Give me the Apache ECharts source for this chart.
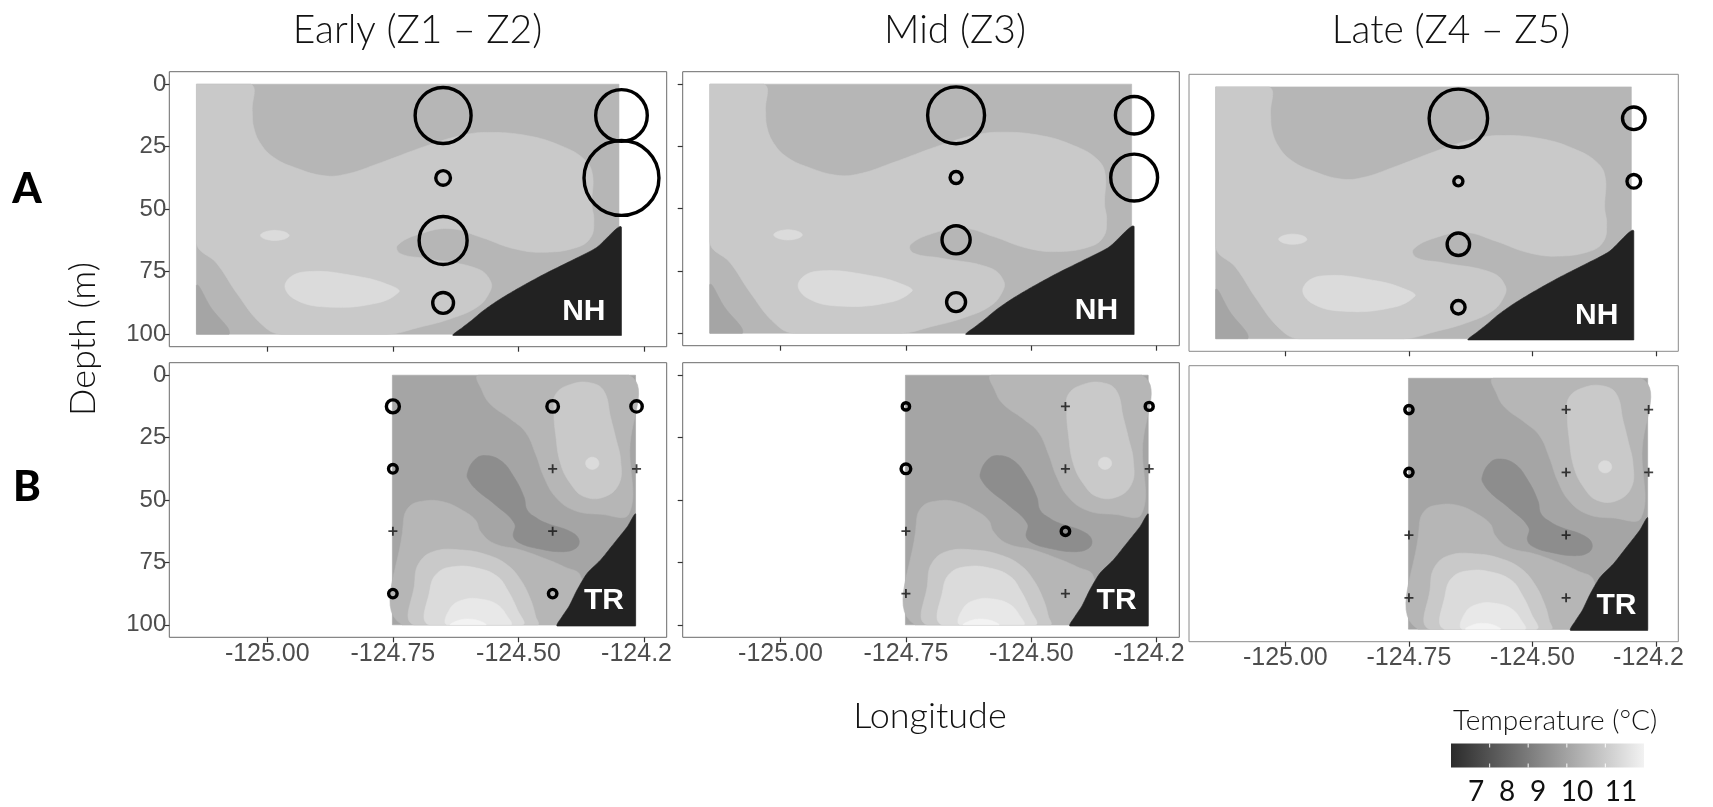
<!DOCTYPE html>
<html>
<head>
<meta charset="utf-8">
<title>Larval distribution over temperature sections, NH and TR lines</title>
<script src="https://cdn.jsdelivr.net/npm/echarts@6.0.0/dist/echarts.min.js"></script>
<style>
  html, body { margin: 0; padding: 0; background: #fff; }
  #chart { width: 1713px; height: 807px; }
</style>
</head>
<body>
<div id="chart"></div>
<script>
// ---------- labels and ticks ----------
const periodTitles = ['Early (Z1 – Z2)', 'Mid (Z3)', 'Late (Z4 – Z5)'];
const rowLetters = ['A', 'B'];
const transectNames = ['NH', 'TR'];
const transectLabelAt = [[-124.37, 91], [-124.33, 90.5]];
const lonTicks = [-125.0, -124.75, -124.5, -124.25];
const lonTickLabels = ['-125.00', '-124.75', '-124.50', '-124.2'];
const depthTicks = [0, 25, 50, 75, 100];
const tempLegendBreaks = [7, 8, 9, 10, 11];
const tempLegendRange = [7, 12];

// ---------- station catches: [longitude, depth bin (m), density]; 0 = sampled, none caught ----------
const nhEarly = [[-124.65, 12.5, 87], [-124.65, 37.5, 6], [-124.65, 62.5, 64], [-124.65, 87.5, 12],
                 [-124.295, 12.5, 74], [-124.295, 37.5, 156]];
const nhMid   = [[-124.65, 12.5, 90], [-124.65, 37.5, 4], [-124.65, 62.5, 22], [-124.65, 87.5, 10],
                 [-124.295, 12.5, 39], [-124.295, 37.5, 61]];
const nhLate  = [[-124.65, 12.5, 95], [-124.65, 37.5, 2.3], [-124.65, 62.5, 14], [-124.65, 87.5, 5],
                 [-124.295, 12.5, 14.2], [-124.295, 37.5, 5.2]];
const trEarly = [[-124.75, 12.5, 4.7], [-124.432, 12.5, 3.7], [-124.265, 12.5, 3.6],
                 [-124.75, 37.5, 2.1], [-124.432, 37.5, 0], [-124.265, 37.5, 0],
                 [-124.75, 62.5, 0], [-124.432, 62.5, 0],
                 [-124.75, 87.5, 2.0], [-124.432, 87.5, 2.0]];
const trMid   = [[-124.75, 12.5, 1.5], [-124.432, 12.5, 0], [-124.265, 12.5, 1.8],
                 [-124.75, 37.5, 2.6], [-124.432, 37.5, 0], [-124.265, 37.5, 0],
                 [-124.75, 62.5, 0], [-124.432, 62.5, 2.0],
                 [-124.75, 87.5, 0], [-124.432, 87.5, 0]];
const trLate  = [[-124.75, 12.5, 1.9], [-124.432, 12.5, 0], [-124.265, 12.5, 0],
                 [-124.75, 37.5, 1.9], [-124.432, 37.5, 0], [-124.265, 37.5, 0],
                 [-124.75, 62.5, 0], [-124.432, 62.5, 0],
                 [-124.75, 87.5, 0], [-124.432, 87.5, 0]];

// ---------- NH section: temperature bands as [lon, depth] outlines ----------
const nhExtent = [-125.141, -124.30, 0, 100];
const nhFrame = [[-125.141, 0], [-124.30, 0], [-124.30, 100], [-125.141, 100]];
const nhBand105 = [[-125.141, 0], [-125.033, 0], [-125.030, 10.6], [-125.027, 17.3], [-125.013, 23.9],
  [-124.987, 29.3], [-124.947, 33.2], [-124.887, 36.6], [-124.841, 35.9], [-124.781, 31.9],
  [-124.682, 24.6], [-124.615, 20.6], [-124.562, 19.3], [-124.482, 20.6], [-124.416, 24.6],
  [-124.370, 29.9], [-124.353, 35.9], [-124.354, 47.9], [-124.350, 54.5], [-124.356, 61.2],
  [-124.383, 65.2], [-124.449, 67.2], [-124.509, 65.8], [-124.575, 61.2], [-124.635, 57.8],
  [-124.695, 59.8], [-124.741, 64.5], [-124.735, 67.8], [-124.682, 69.8], [-124.582, 73.8],
  [-124.555, 79.1], [-124.559, 83.8], [-124.582, 89.1], [-124.635, 93.8], [-124.695, 97.1],
  [-124.761, 100], [-124.973, 100], [-125.013, 95.7], [-125.060, 83.8], [-125.100, 71.8],
  [-125.141, 63.2]];
const nhBand95 = [[-125.141, 80.5], [-125.113, 89.1], [-125.076, 100], [-125.141, 100]];
const nhSpotSmall = [[-124.9565, 60.5], [-124.9708, 62.2], [-124.9993, 62.2], [-125.0135, 60.5],
  [-124.9993, 58.8], [-124.9708, 58.8]];
const nhSpotLarge = [[-124.964, 79.8], [-124.927, 75.1], [-124.814, 77.1], [-124.748, 81.1],
  [-124.738, 83.1], [-124.781, 87.5], [-124.881, 89.1], [-124.947, 85.8]];
const nhShelf = [[-124.630, 100.5], [-124.612, 97.4], [-124.594, 94.6], [-124.570, 90.6],
  [-124.540, 86.4], [-124.500, 81.6], [-124.449, 76.0], [-124.395, 70.6], [-124.345, 65.4],
  [-124.295, 57.2], [-124.295, 100.5]];

// ---------- TR section ----------
const trExtent = [-124.751, -124.267, 0, 100];
const trFrame = [[-124.751, 0], [-124.267, 0], [-124.267, 100], [-124.751, 100]];
const trBand100a = [[-124.5787, 0], [-124.5720, 6.4], [-124.5555, 11.7], [-124.5157, 17.6],
  [-124.4858, 22.9], [-124.4659, 31.6], [-124.4493, 40.8], [-124.4261, 48.8], [-124.3896, 54.1],
  [-124.3365, 55.7], [-124.2801, 55.5], [-124.2785, 30.2], [-124.2801, 0]];
const trBand105a = [[-124.4261, 7.7], [-124.3962, 3.7], [-124.3564, 3.1], [-124.3299, 6.4],
  [-124.3166, 17.0], [-124.3067, 24.9], [-124.2967, 34.2], [-124.3000, 43.5], [-124.3299, 48.8],
  [-124.3697, 48.6], [-124.3962, 43.5], [-124.4161, 35.5], [-124.4261, 23.6], [-124.4294, 14.3]];
const trSpot110 = [[-124.3398, 35.3], [-124.3465, 37.4], [-124.3598, 37.4], [-124.3664, 35.3],
  [-124.3598, 33.2], [-124.3465, 33.2]];
const trBand90 = [[-124.6019, 39.5], [-124.5886, 34.2], [-124.5687, 32.2], [-124.5356, 34.2],
  [-124.5090, 40.8], [-124.4891, 48.8], [-124.4825, 54.1], [-124.4626, 57.4], [-124.4427, 59.4],
  [-124.3962, 62.7], [-124.3796, 66.0], [-124.3863, 69.4], [-124.4161, 70.7], [-124.4626, 69.4],
  [-124.4958, 67.4], [-124.5100, 64.7], [-124.5080, 59.4], [-124.5488, 51.5], [-124.5820, 46.2],
  [-124.5986, 42.2]];
const trBand100b = [[-124.7313, 100], [-124.7293, 59.4], [-124.7180, 52.8], [-124.6882, 50.4],
  [-124.6484, 50.8], [-124.6119, 54.1], [-124.5853, 58.1], [-124.5754, 62.7], [-124.5488, 67.4],
  [-124.4958, 70.0], [-124.4493, 73.3], [-124.4095, 76.7], [-124.3763, 80.6], [-124.3700, 100]];
const trBand105b = [[-124.7081, 100], [-124.7067, 83.3], [-124.6981, 75.3], [-124.6683, 70.6],
  [-124.6152, 70.0], [-124.5621, 72.0], [-124.5223, 76.0], [-124.4958, 82.0], [-124.4759, 89.9],
  [-124.4659, 96.6], [-124.4626, 100]];
const trBand110 = [[-124.6782, 100], [-124.6762, 85.9], [-124.6616, 79.3], [-124.6285, 76.7],
  [-124.5820, 77.3], [-124.5422, 80.6], [-124.5223, 85.9], [-124.5024, 93.9], [-124.4924, 100]];
const trBand115 = [[-124.6417, 100], [-124.6351, 93.2], [-124.6085, 89.9], [-124.5754, 89.7],
  [-124.5422, 91.9], [-124.5223, 96.6], [-124.5157, 100]];
const trBand120 = [[-124.6351, 100], [-124.6218, 98.4], [-124.6019, 97.7], [-124.5787, 98.4],
  [-124.5654, 100]];
const trShelf = [[-124.4228, 100.5], [-124.4128, 96.6], [-124.3995, 92.6], [-124.3830, 85.9],
  [-124.3631, 79.3], [-124.3365, 74.0], [-124.3100, 67.4], [-124.2834, 60.7], [-124.2668, 55.7],
  [-124.2668, 100.5]];

// ---------- styles ----------
const bandFill = { 9.0: '#8d8d8d', 9.5: '#a5a5a5', 10.0: '#b6b6b6', 10.5: '#c9c9c9',
                   11.0: '#dbdbdb', 11.5: '#e8e8e8', 12.0: '#f3f3f3' };
const SHELF_FILL = '#222222';
const LABEL_GREY = '#4d4d4d';
const TEXT_FONT = 'Lato, "Open Sans", sans-serif';
const TICK_FONT = '"Liberation Sans", Arial, sans-serif';

// layer stacks, painted in order
const nhLayers = [
  { ring: nhFrame, t: 10.0 }, { ring: nhBand105, t: 10.5 }, { ring: nhBand95, t: 9.5 },
  { ring: nhSpotSmall, t: 11.0 }, { ring: nhSpotLarge, t: 11.0 }, { ring: nhShelf, shelf: true }
];
const trLayers = [
  { ring: trFrame, t: 9.5 }, { ring: trBand100a, t: 10.0 }, { ring: trBand105a, t: 10.5 },
  { ring: trSpot110, t: 11.0 }, { ring: trBand90, t: 9.0 }, { ring: trBand100b, t: 10.0 },
  { ring: trBand105b, t: 10.5 }, { ring: trBand110, t: 11.0 }, { ring: trBand115, t: 11.5 },
  { ring: trBand120, t: 12.0 }, { ring: trShelf, shelf: true }
];

// panel boxes: [left, top, width, height]
const panelBoxes = [
  [169.3, 71.7, 497.4, 275.0], [682.7, 71.7, 496.6, 274.0], [1189.0, 74.3, 489.3, 277.0],
  [169.3, 362.7, 497.4, 274.6], [682.7, 362.7, 496.6, 274.6], [1189.0, 365.7, 489.3, 276.0]
];
const panelCatches = [nhEarly, nhMid, nhLate, trEarly, trMid, trLate];

// ---------- outline builder: straight along the section frame, smooth bezier elsewhere ----------
function onFrame(a, b, ext) {
  return (a[1] === b[1] && (a[1] <= ext[2] || a[1] >= ext[3])) ||
         (a[0] === b[0] && (a[0] <= ext[0] || a[0] >= ext[1]));
}
function ringPixels(ring, api, ext, smooth) {
  const n = ring.length;
  const px = ring.map(p => api.coord(p));
  const cpIn = [], cpOut = [];
  for (let i = 0; i < n; i++) {
    const p0 = px[(i - 1 + n) % n], p1 = px[i], p2 = px[(i + 1) % n];
    const d0 = Math.hypot(p1[0] - p0[0], p1[1] - p0[1]);
    const d1 = Math.hypot(p2[0] - p1[0], p2[1] - p1[1]);
    const s = (d0 + d1) || 1, vx = p2[0] - p0[0], vy = p2[1] - p0[1];
    cpIn.push([p1[0] - vx * smooth * d0 / s, p1[1] - vy * smooth * d0 / s]);
    cpOut.push([p1[0] + vx * smooth * d1 / s, p1[1] + vy * smooth * d1 / s]);
  }
  const out = [];
  for (let i = 0; i < n; i++) {
    const j = (i + 1) % n;
    out.push(px[i]);
    if (!smooth || onFrame(ring[i], ring[j], ext)) continue;
    const a = px[i], b = cpOut[i], c = cpIn[j], d = px[j];
    for (let k = 1; k < 14; k++) {
      const t = k / 14, u = 1 - t;
      out.push([
        u * u * u * a[0] + 3 * u * u * t * b[0] + 3 * u * t * t * c[0] + t * t * t * d[0],
        u * u * u * a[1] + 3 * u * u * t * b[1] + 3 * u * t * t * c[1] + t * t * t * d[1]
      ]);
    }
  }
  return out;
}

function sectionSeries(layers, ext, idx) {
  return {
    type: 'custom', coordinateSystem: 'cartesian2d', xAxisIndex: idx, yAxisIndex: idx,
    silent: true, clip: true, z: 1, animation: false,
    data: layers.map((l, i) => [l.ring[0][0], l.ring[0][1], i]),
    encode: { x: 0, y: 1 },
    renderItem: (params, api) => {
      const layer = layers[params.dataIndex];
      const fill = layer.shelf ? SHELF_FILL : bandFill[layer.t];
      return {
        type: 'polygon',
        shape: { points: ringPixels(layer.ring, api, ext, layer.shelf ? 0.25 : 0.42) },
        style: { fill: fill, stroke: fill, lineWidth: 0.6 }
      };
    }
  };
}

function transectLabelSeries(row, idx) {
  return {
    type: 'custom', coordinateSystem: 'cartesian2d', xAxisIndex: idx, yAxisIndex: idx,
    silent: true, z: 6, animation: false,
    data: [transectLabelAt[row]],
    encode: { x: 0, y: 1 },
    renderItem: (params, api) => {
      const p = api.coord([api.value(0), api.value(1)]);
      return {
        type: 'text', x: p[0], y: p[1],
        style: { text: transectNames[row], fill: '#ffffff', fontFamily: TICK_FONT,
                 fontWeight: 'bold', fontSize: 30, align: 'center', verticalAlign: 'middle' }
      };
    }
  };
}

const plusPath = 'path://M4,0H6V4H10V6H6V10H4V6H0V4H4Z';

// ---------- assemble ----------
const grids = [], xAxes = [], yAxes = [], series = [];
panelBoxes.forEach((b, i) => {
  const row = Math.floor(i / 3), col = i % 3;
  grids.push({ left: b[0], top: b[1], width: b[2], height: b[3], show: true,
               borderColor: col === 2 ? '#8a8a8a' : '#6a6a6a', borderWidth: 1,
               backgroundColor: 'rgba(0,0,0,0)' });
  xAxes.push({
    gridIndex: i, type: 'value', min: -125.195, max: -124.205, position: 'bottom',
    axisLine: { show: false, onZero: false }, splitLine: { show: false },
    axisTick: { show: true, customValues: lonTicks, length: 5, lineStyle: { color: '#333', width: 1.2 } },
    axisLabel: {
      show: row === 1, customValues: lonTicks, margin: 4,
      fontFamily: TICK_FONT, fontSize: 25, color: LABEL_GREY,
      formatter: v => {
        const k = lonTicks.findIndex(t => Math.abs(t - v) < 1e-6);
        return k === lonTicks.length - 1 ? '{cut|' + lonTickLabels[k] + '}' : lonTickLabels[k];
      },
      rich: { cut: { width: 86, align: 'left', fontFamily: TICK_FONT, fontSize: 25, color: LABEL_GREY } }
    }
  });
  yAxes.push({
    gridIndex: i, type: 'value', inverse: true, min: -5, max: 105, position: 'left',
    axisLine: { show: false, onZero: false }, splitLine: { show: false },
    axisTick: { show: col < 2, customValues: depthTicks, length: 5, lineStyle: { color: '#333', width: 1.2 } },
    axisLabel: { show: col === 0, customValues: depthTicks, margin: 3,
                 fontFamily: TICK_FONT, fontSize: 24, color: LABEL_GREY }
  });

  series.push(row === 0 ? sectionSeries(nhLayers, nhExtent, i) : sectionSeries(trLayers, trExtent, i));

  const catches = panelCatches[i];
  series.push({
    type: 'scatter', xAxisIndex: i, yAxisIndex: i, z: 5, animation: false, silent: true,
    data: catches.filter(d => d[2] > 0),
    symbol: 'circle',
    symbolSize: v => 6 * Math.sqrt(v[2]),
    itemStyle: { color: 'rgba(0,0,0,0)', borderColor: '#000', borderWidth: 3.4, opacity: 1 }
  });
  series.push({
    type: 'scatter', xAxisIndex: i, yAxisIndex: i, z: 5, animation: false, silent: true,
    data: catches.filter(d => d[2] === 0),
    symbol: plusPath, symbolSize: 9,
    itemStyle: { color: '#111111' }
  });
  series.push(transectLabelSeries(row, i));
});

// ---------- text and legend ----------
const titleX = [417.5, 955, 1451];
const rowLetterY = [189, 487];
const legendBar = { x: 1451, y: 743.5, w: 193, h: 24 };
const legendLabelX = [1476, 1507, 1538, 1577, 1621];

const graphics = [];
periodTitles.forEach((t, i) => graphics.push({
  type: 'text', x: titleX[i], y: 30, silent: true,
  style: { text: t, fontFamily: TEXT_FONT, fontWeight: 300, fontSize: 39, fill: '#111111',
           align: 'center', verticalAlign: 'middle' }
}));
rowLetters.forEach((t, i) => graphics.push({
  type: 'text', x: 27, y: rowLetterY[i], silent: true,
  style: { text: t, fontFamily: TEXT_FONT, fontWeight: 900, fontSize: 42, fill: '#000',
           align: 'center', verticalAlign: 'middle' }
}));
graphics.push({
  type: 'text', x: 83, y: 339, rotation: Math.PI / 2, silent: true,
  style: { text: 'Depth (m)', fontFamily: TEXT_FONT, fontWeight: 300, fontSize: 36, fill: '#111111',
           align: 'center', verticalAlign: 'middle' }
});
graphics.push({
  type: 'text', x: 930, y: 716, silent: true,
  style: { text: 'Longitude', fontFamily: TEXT_FONT, fontWeight: 300, fontSize: 36, fill: '#111111',
           align: 'center', verticalAlign: 'middle' }
});
graphics.push({
  type: 'text', x: 1453, y: 721, silent: true,
  style: { text: 'Temperature (°C)', fontFamily: TEXT_FONT, fontWeight: 300, fontSize: 28, fill: '#111111',
           align: 'left', verticalAlign: 'middle' }
});
graphics.push({
  type: 'rect', silent: true,
  shape: { x: legendBar.x, y: legendBar.y, width: legendBar.w, height: legendBar.h },
  style: { fill: new echarts.graphic.LinearGradient(0, 0, 1, 0, [
    { offset: 0, color: '#2b2b2b' }, { offset: 0.5, color: '#8f8f8f' }, { offset: 1, color: '#f2f2f2' }]) }
});
tempLegendBreaks.slice(1).forEach(t => {
  const x = legendBar.x + (t - tempLegendRange[0]) / (tempLegendRange[1] - tempLegendRange[0]) * legendBar.w;
  [[legendBar.y, legendBar.y + 4], [legendBar.y + legendBar.h - 4, legendBar.y + legendBar.h]].forEach(seg =>
    graphics.push({ type: 'line', silent: true, shape: { x1: x, y1: seg[0], x2: x, y2: seg[1] },
                    style: { stroke: '#ffffff', lineWidth: 1.2, opacity: 0.8 } }));
});
tempLegendBreaks.forEach((t, i) => graphics.push({
  type: 'text', x: legendLabelX[i], y: 792, silent: true,
  style: { text: String(t), fontFamily: TEXT_FONT, fontWeight: 400, fontSize: 28, fill: '#111111',
           align: 'center', verticalAlign: 'middle' }
}));

const chart = echarts.init(document.getElementById('chart'), null, { renderer: 'canvas' });
chart.setOption({
  backgroundColor: '#ffffff',
  animation: false,
  grid: grids,
  xAxis: xAxes,
  yAxis: yAxes,
  series: series,
  graphic: graphics
});
</script>
</body>
</html>
